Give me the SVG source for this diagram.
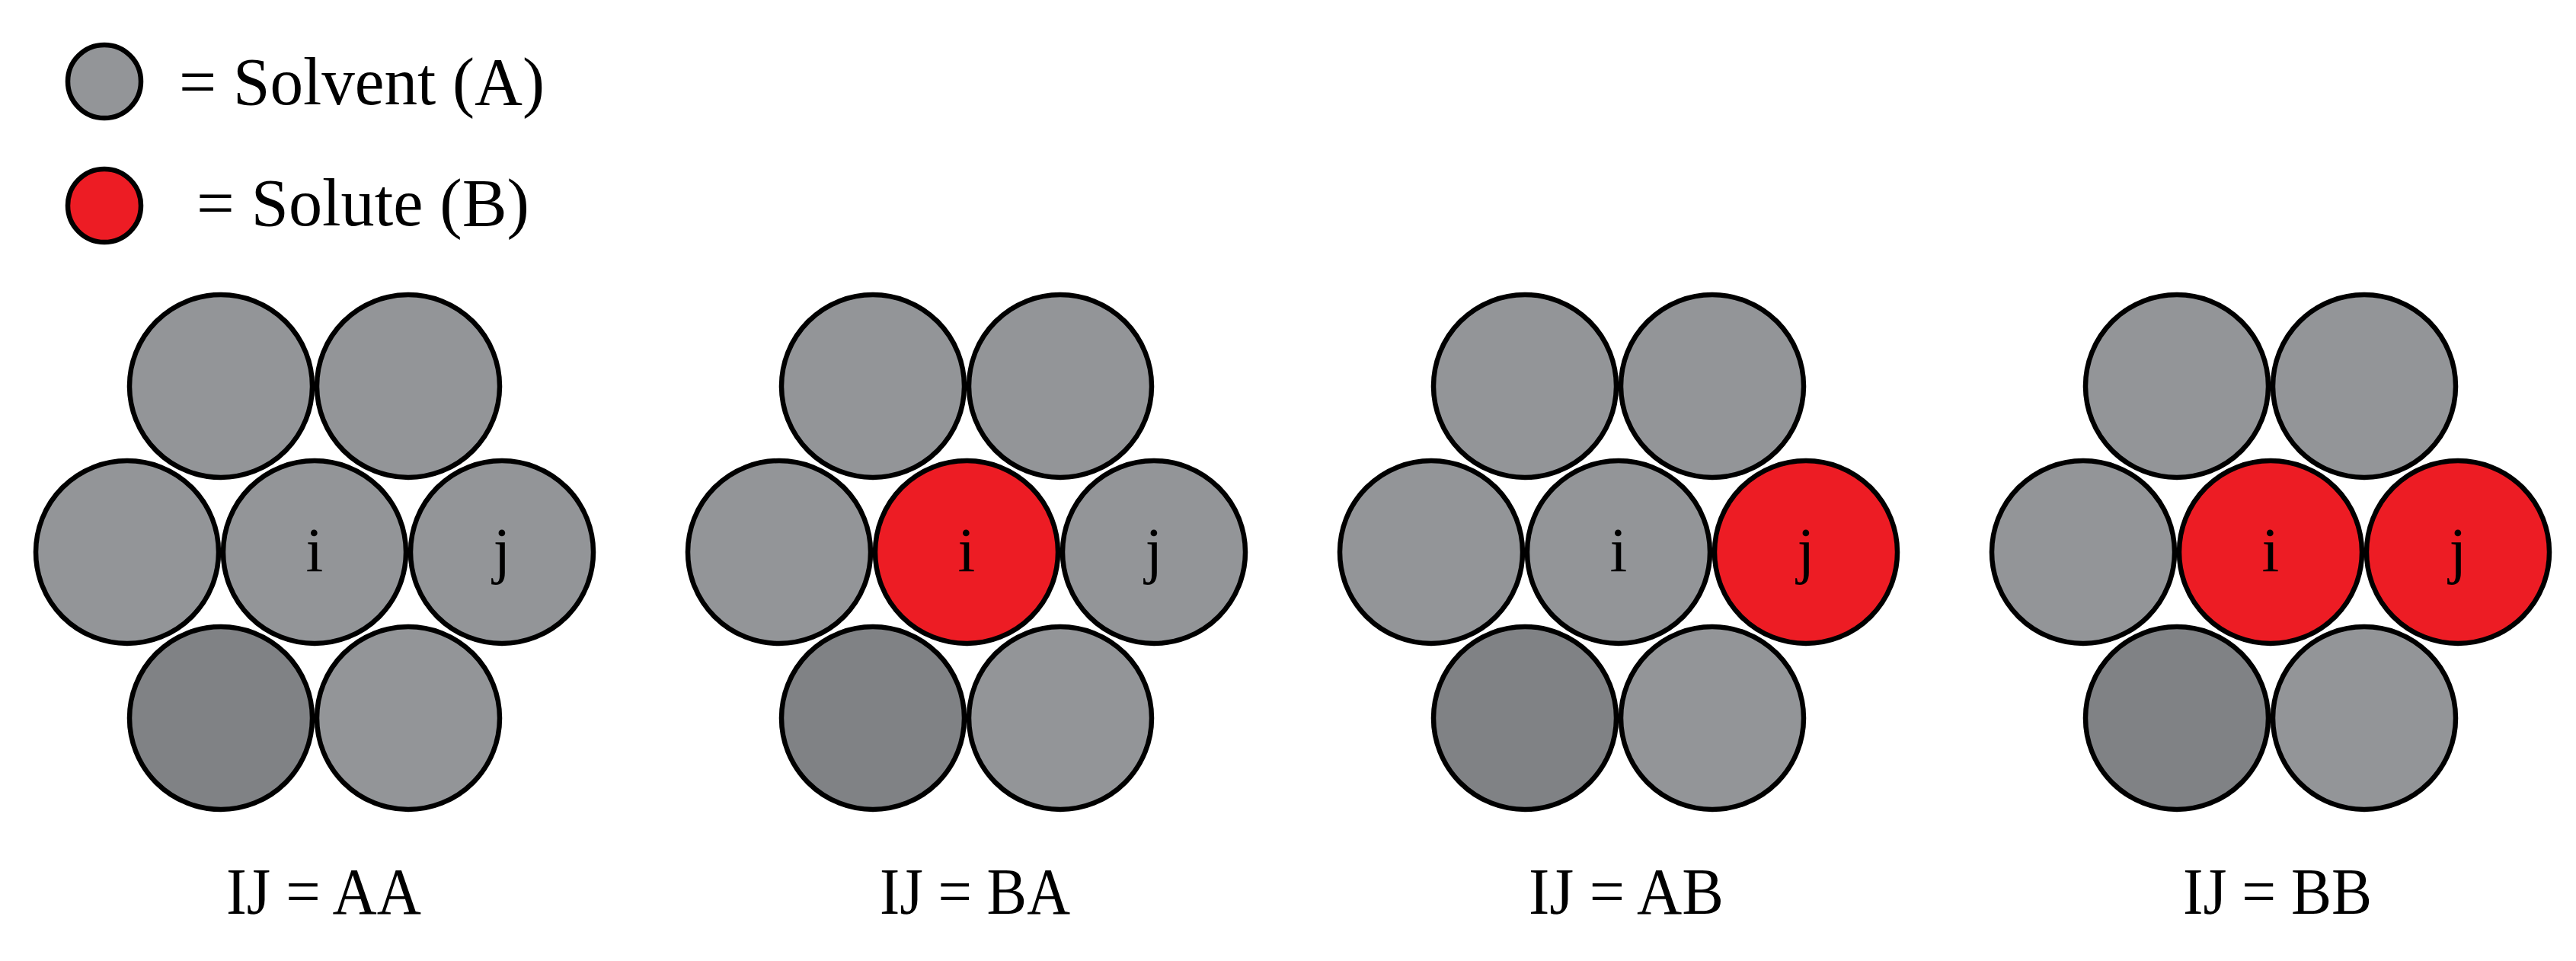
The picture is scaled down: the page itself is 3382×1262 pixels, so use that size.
<svg xmlns="http://www.w3.org/2000/svg" xmlns:xlink="http://www.w3.org/1999/xlink" width="3382" height="1262" viewBox="0 0 3382 1262">
  <style>
    .a { fill: #939598; stroke: #000; stroke-width: 6.5; }
    .d { fill: #808285; stroke: #000; stroke-width: 6.5; }
    .b { fill: #ED1C24; stroke: #000; stroke-width: 6.5; }
    .lbl { font-family: "Liberation Serif", "Times New Roman", serif; fill: #000; }
    .ij { font-size: 82px; text-anchor: middle; }
    .cap { font-size: 87px; text-anchor: middle; }
    .leg { font-size: 88px; }
  </style>
  <rect x="0" y="0" width="3382" height="1262" fill="#fff"/>

  <g id="legend">
    <g id="legend-solvent">
      <circle class="a" cx="137" cy="107" r="48"/>
      <text class="lbl leg" x="235" y="137" textLength="480" lengthAdjust="spacingAndGlyphs">= Solvent (A)</text>
    </g>
    <g id="legend-solute">
      <circle class="b" cx="137" cy="270" r="48"/>
      <text class="lbl leg" x="258" y="296" textLength="437" lengthAdjust="spacingAndGlyphs">= Solute (B)</text>
    </g>
  </g>

  <g id="cluster-AA">
    <circle class="a" cx="290" cy="507" r="120"/>
    <circle class="a" cx="536" cy="507" r="120"/>
    <circle class="a" cx="167" cy="725" r="120"/>
    <circle class="a" cx="413" cy="725" r="120"/>
    <circle class="a" cx="659" cy="725" r="120"/>
    <circle class="d" cx="290" cy="943" r="120"/>
    <circle class="a" cx="536" cy="943" r="120"/>
    <text class="lbl ij" x="413" y="750">i</text>
    <text class="lbl ij" x="659" y="750">j</text>
    <text class="lbl cap" x="425" y="1200" textLength="256" lengthAdjust="spacingAndGlyphs">IJ = AA</text>
  </g>

  <g id="cluster-BA">
    <circle class="a" cx="1146" cy="507" r="120"/>
    <circle class="a" cx="1392" cy="507" r="120"/>
    <circle class="a" cx="1023" cy="725" r="120"/>
    <circle class="b" cx="1269" cy="725" r="120"/>
    <circle class="a" cx="1515" cy="725" r="120"/>
    <circle class="d" cx="1146" cy="943" r="120"/>
    <circle class="a" cx="1392" cy="943" r="120"/>
    <text class="lbl ij" x="1269" y="750">i</text>
    <text class="lbl ij" x="1515" y="750">j</text>
    <text class="lbl cap" x="1280" y="1200" textLength="250" lengthAdjust="spacingAndGlyphs">IJ = BA</text>
  </g>

  <g id="cluster-AB">
    <circle class="a" cx="2002" cy="507" r="120"/>
    <circle class="a" cx="2248" cy="507" r="120"/>
    <circle class="a" cx="1879" cy="725" r="120"/>
    <circle class="a" cx="2125" cy="725" r="120"/>
    <circle class="b" cx="2371" cy="725" r="120"/>
    <circle class="d" cx="2002" cy="943" r="120"/>
    <circle class="a" cx="2248" cy="943" r="120"/>
    <text class="lbl ij" x="2125" y="750">i</text>
    <text class="lbl ij" x="2371" y="750">j</text>
    <text class="lbl cap" x="2135" y="1200" textLength="256" lengthAdjust="spacingAndGlyphs">IJ = AB</text>
  </g>

  <g id="cluster-BB">
    <circle class="a" cx="2858" cy="507" r="120"/>
    <circle class="a" cx="3104" cy="507" r="120"/>
    <circle class="a" cx="2735" cy="725" r="120"/>
    <circle class="b" cx="2981" cy="725" r="120"/>
    <circle class="b" cx="3227" cy="725" r="120"/>
    <circle class="d" cx="2858" cy="943" r="120"/>
    <circle class="a" cx="3104" cy="943" r="120"/>
    <text class="lbl ij" x="2981" y="750">i</text>
    <text class="lbl ij" x="3227" y="750">j</text>
    <text class="lbl cap" x="2990" y="1200" textLength="248" lengthAdjust="spacingAndGlyphs">IJ = BB</text>
  </g>

  <g id="connectors"></g>
</svg>
